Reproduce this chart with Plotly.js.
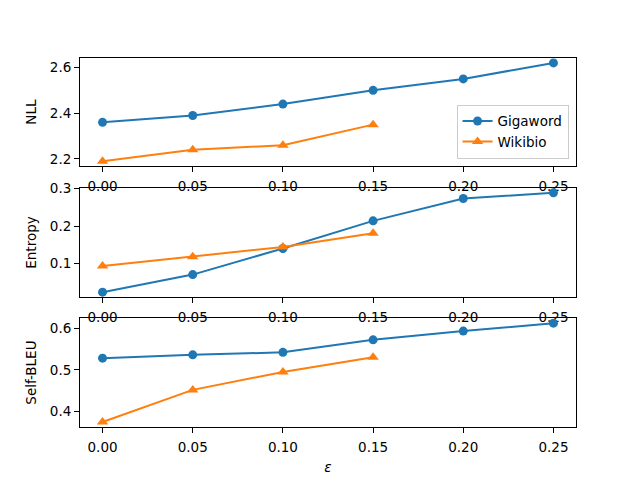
<!DOCTYPE html>
<html>
<head>
<meta charset="utf-8">
<script src="https://cdn.plot.ly/plotly-3.0.1.min.js"></script>
<style>
  html, body { margin: 0; padding: 0; background: #fff; }
  #plot { width: 640px; height: 480px; }
</style>
</head>
<body>
<div id="plot"></div>
<script>
// DATA =========================================================
var epsGigaword = [0.00, 0.05, 0.10, 0.15, 0.20, 0.25];
var epsWikibio = [0.00, 0.05, 0.10, 0.15];

var nllGigaword = [2.36, 2.39, 2.44, 2.50, 2.55, 2.62];
var nllWikibio = [2.19, 2.24, 2.26, 2.35];

var entropyGigaword = [0.023, 0.070, 0.140, 0.214, 0.274, 0.289];
var entropyWikibio = [0.093, 0.118, 0.144, 0.181];

var bleuGigaword = [0.528, 0.536, 0.542, 0.572, 0.593, 0.612];
var bleuWikibio = [0.375, 0.452, 0.495, 0.530];

var xTicks = [0.00, 0.05, 0.10, 0.15, 0.20, 0.25];

// STYLE ========================================================
var blue = '#1f77b4';
var orange = '#ff7f0e';
var font = 'DejaVu Sans, sans-serif';

function series(x, y, name, color, symbol, size, axisNum, showLegend) {
    return {
        x: x,
        y: y,
        name: name,
        type: 'scatter',
        mode: 'lines+markers',
        line: { color: color, width: 2 },
        marker: { color: color, symbol: symbol, size: size },
        xaxis: 'x' + (axisNum === 1 ? '' : axisNum),
        yaxis: 'y' + (axisNum === 1 ? '' : axisNum),
        showlegend: showLegend
    };
}

var data = [
    series(epsGigaword, nllGigaword, 'Gigaword', blue, 'circle', 9, 1, true),
    series(epsWikibio, nllWikibio, 'Wikibio', orange, 'triangle-up', 10, 1, true),
    series(epsGigaword, entropyGigaword, 'Gigaword', blue, 'circle', 9, 2, false),
    series(epsWikibio, entropyWikibio, 'Wikibio', orange, 'triangle-up', 10, 2, false),
    series(epsGigaword, bleuGigaword, 'Gigaword', blue, 'circle', 9, 3, false),
    series(epsWikibio, bleuWikibio, 'Wikibio', orange, 'triangle-up', 10, 3, false)
];

function xAxis(domainAnchor, title) {
    var ax = {
        anchor: domainAnchor,
        range: [-0.0125, 0.2625],
        tickvals: xTicks,
        tickformat: '.2f',
        ticks: 'outside',
        ticklen: 5,
        tickcolor: '#000',
        ticklabelstandoff: 3,
        showline: true,
        linecolor: '#000',
        linewidth: 1,
        mirror: true,
        showgrid: false,
        zeroline: false
    };
    if (title) ax.title = { text: title, font: { size: 13.5 }, standoff: 8 };
    return ax;
}

function yAxis(domain, range, ticks, title) {
    return {
        domain: domain,
        range: range,
        tickvals: ticks,
        tickformat: '.1f',
        ticks: 'outside',
        ticklen: 5,
        tickcolor: '#000',
        showline: true,
        linecolor: '#000',
        linewidth: 1,
        mirror: true,
        showgrid: false,
        zeroline: false,
        title: { text: title, font: { size: 13.5 }, standoff: 10 }
    };
}

var layout = {
    width: 640,
    height: 480,
    font: { family: font, size: 13.5, color: '#000' },
    paper_bgcolor: '#fff',
    plot_bgcolor: '#fff',
    margin: { l: 80, r: 64, t: 58, b: 53 },
    xaxis: xAxis('y', null),
    xaxis2: xAxis('y2', null),
    xaxis3: xAxis('y3', '<i>ε</i>'),
    yaxis: yAxis([0.707, 1], [2.1685, 2.6415], [2.2, 2.4, 2.6], 'NLL'),
    yaxis2: yAxis([0.352, 0.648], [0.0097, 0.3023], [0.1, 0.2, 0.3], 'Entropy'),
    yaxis3: yAxis([0, 0.295], [0.363, 0.624], [0.4, 0.5, 0.6], 'Self-BLEU'),
    legend: {
        x: 0.985,
        y: 0.727,
        xanchor: 'right',
        yanchor: 'bottom',
        bgcolor: 'rgba(255,255,255,0.8)',
        bordercolor: '#cccccc',
        borderwidth: 1,
        font: { size: 13.5 }
    }
};

Plotly.newPlot('plot', data, layout, { displayModeBar: false, staticPlot: true });
</script>
</body>
</html>
